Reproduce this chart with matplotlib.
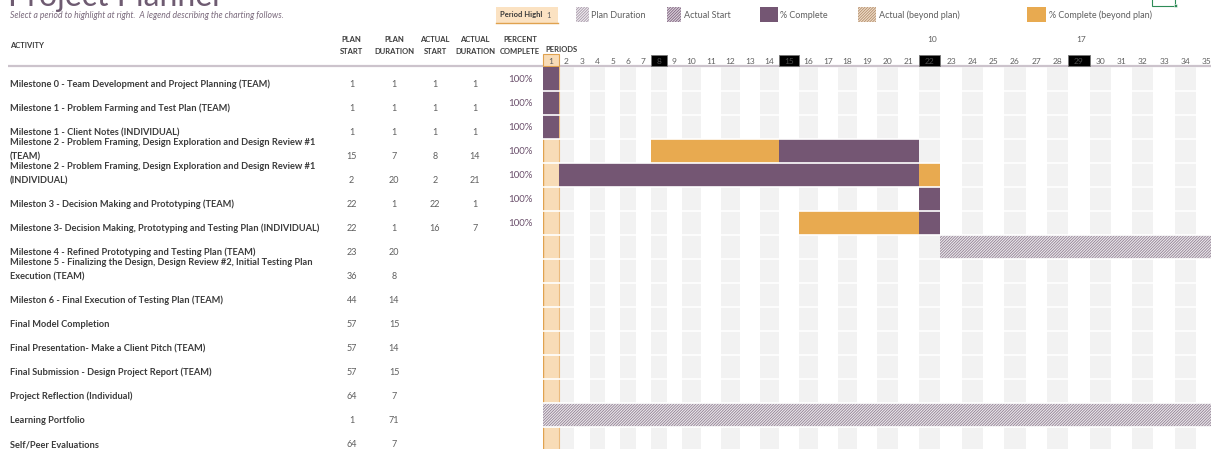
import numpy as np
import matplotlib
matplotlib.use("Agg")
import matplotlib.pyplot as plt
from matplotlib.patches import Rectangle
from matplotlib.transforms import blended_transform_factory as blend

# ---------------- data ----------------
activities = [
    "Milestone 0 - Team Development and Project Planning (TEAM)",
    "Milestone 1 - Problem Farming and Test Plan (TEAM)",
    "Milestone 1 - Client Notes (INDIVIDUAL)",
    "Milestone 2 - Problem Framing, Design Exploration and Design Review #1\n(TEAM)",
    "Milestone 2 - Problem Framing, Design Exploration and Design Review #1\n(INDIVIDUAL)",
    "Mileston 3 - Decision Making and Prototyping (TEAM)",
    "Milestone 3- Decision Making, Prototyping and Testing Plan (INDIVIDUAL)",
    "Milestone 4 - Refined Prototyping and Testing Plan (TEAM)",
    "Milestone 5 - Finalizing the Design, Design Review #2, Initial Testing Plan\nExecution (TEAM)",
    "Mileston 6 - Final Execution of Testing Plan (TEAM)",
    "Final Model Completion",
    "Final Presentation- Make a Client Pitch (TEAM)",
    "Final Submission - Design Project Report (TEAM)",
    "Project Reflection (Individual)",
    "Learning Portfolio",
    "Self/Peer Evaluations",
]
plan_start = [1, 1, 1, 15, 2, 22, 22, 23, 36, 44, 57, 57, 57, 64, 1, 64]
plan_duration = [1, 1, 1, 7, 20, 1, 1, 20, 8, 14, 15, 14, 15, 7, 71, 7]
actual_start = [1, 1, 1, 8, 2, 22, 16, None, None, None, None, None, None, None, None, None]
actual_duration = [1, 1, 1, 14, 21, 1, 7, None, None, None, None, None, None, None, None, None]
percent_complete = [100, 100, 100, 100, 100, 100, 100, None, None, None, None, None, None, None, None, None]
period_labels = list(range(1, 36))
highlight_period = 1
week_marks = [8, 15, 22, 29]
top_marks = {22: "10", 29: "17"}
legend_items = ["Plan Duration", "Actual Start", "% Complete", "Actual (beyond plan)", "% Complete (beyond plan)"]
headers = [("PLAN", "START"), ("PLAN", "DURATION"), ("ACTUAL", "START"), ("ACTUAL", "DURATION"), ("PERCENT", "COMPLETE")]

# ---------------- style / layout ----------------
PURPLE = "#745673"
ORANGE = "#E8AA50"
HL_FILL = "#F8DCB7"
HL_EDGE = "#E0A24F"
GRAY_COL = "#F2F2F2"
TXT = "#3b3b3b"
NUM = "#5f5f5f"
SEP = "#CCC3CC"
HATCH = "////////////"

plt.rcParams["font.family"] = ["Lato", "DejaVu Sans"]
plt.rcParams["hatch.linewidth"] = 0.6

W, H = 1211, 449
X0 = 543.3
HEAD_Y = 66.7
ROW_H = 24.0
PERIOD_W = [15.4] * 9 + [19.46] * 10 + [21.3] * 20

ep = np.arange(1, len(PERIOD_W) + 2, dtype=float)
epx = X0 + np.concatenate([[0.0], np.cumsum(PERIOD_W)])
ep = np.concatenate([[-100.0], ep, [ep[-1] + 200]])
epx = np.concatenate([[X0 - 101 * 15.4], epx, [epx[-1] + 200 * 21.3]])


def fwd(x):
    return np.interp(x, ep, epx)


def inv(v):
    return np.interp(v, epx, ep)


fig = plt.figure(figsize=(W / 100, H / 100), dpi=100)
base = fig.add_axes([0, 0, 1, 1], zorder=0)
base.set_xlim(0, W)
base.set_ylim(H, 0)
base.set_axis_off()

g = fig.add_axes([X0 / W, 0, 1 - X0 / W, (H - HEAD_Y) / H], zorder=1)
g.set_xscale("function", functions=(fwd, inv))
g.set_xlim(1, float(inv(W)))
g.set_ylim((H - HEAD_Y) / ROW_H, 0)
g.set_axis_off()

# ---------------- gantt background ----------------
for p in range(2, 40, 2):
    g.axvspan(p, p + 1, color=GRAY_COL, lw=0, zorder=0)
g.axvspan(highlight_period, highlight_period + 1, color=HL_FILL, lw=0, zorder=0.5)
g.axvline(highlight_period, color=HL_EDGE, lw=1.0, zorder=0.6)
g.axvline(highlight_period + 1, color="#EBBB7E", lw=0.8, zorder=0.6)

# ---------------- bars ----------------
n = len(activities)
for i in range(n):
    ps = plan_start[i]
    pe = ps + plan_duration[i]
    hatch_segs = []
    if actual_start[i] is not None:
        a0 = actual_start[i]
        a1 = a0 + actual_duration[i]
        c1 = a0 + actual_duration[i] * percent_complete[i] / 100.0
        purple = []
        orange = []
        s, e = max(a0, ps), min(c1, pe)
        if e > s:
            purple.append((s, e - s))
        if a0 < ps:
            orange.append((a0, min(c1, ps) - a0))
        if c1 > pe:
            orange.append((max(a0, pe), c1 - max(a0, pe)))
        if purple:
            g.broken_barh(purple, (i, 1), facecolors=PURPLE, lw=0, zorder=2)
        if orange:
            g.broken_barh(orange, (i, 1), facecolors=ORANGE, lw=0, zorder=2)
        if ps < a0:
            hatch_segs.append((ps, min(pe, a0) - ps))
        if pe > a1:
            hatch_segs.append((max(ps, a1), pe - max(ps, a1)))
    else:
        hatch_segs.append((ps, pe - ps))
    if hatch_segs:
        g.broken_barh(hatch_segs, (i, 1), facecolors="#ECE8EC", edgecolor="#918193",
                      hatch=HATCH, lw=0, zorder=2)

for r in range(1, n + 1):
    g.axhline(r, color="white", lw=1.2, zorder=3)

# ---------------- left table ----------------
tr = blend(base.transData, g.transData)
for i, label in enumerate(activities):
    lines = label.split("\n")
    for k, line in enumerate(lines):
        y = i + 0.75 - (len(lines) - 1 - k) * 0.6
        base.text(10, y, line, transform=tr, ha="left", va="center",
                  fontsize=6.7, fontweight="bold", color=TXT)

num_cols_x = [351.7, 394, 435, 475]
for i in range(n):
    vals = [plan_start[i], plan_duration[i], actual_start[i], actual_duration[i]]
    for x, v in zip(num_cols_x, vals):
        if v is not None:
            base.text(x, i + 0.75, str(v), transform=tr, ha="center", va="center",
                      fontsize=6.5, color=NUM)
    if percent_complete[i] is not None:
        base.text(520, i + 0.53, f"{percent_complete[i]}%", transform=tr, ha="center",
                  va="center", fontsize=7, color="#6A4F6B")

# ---------------- headers ----------------
base.text(10, 45, "ACTIVITY", ha="left", va="center", fontsize=5.5, fontweight="bold", color=TXT)
for x, (l1, l2) in zip(num_cols_x + [520], headers):
    base.text(x, 39.3, l1, ha="center", va="center", fontsize=5.5, fontweight="bold", color=TXT)
    base.text(x, 51.5, l2, ha="center", va="center", fontsize=5.5, fontweight="bold", color=TXT)
base.text(545, 49.3, "PERIODS", ha="left", va="center", fontsize=5.5, fontweight="bold", color=TXT)
base.plot([8, W], [65.6, 65.6], color=SEP, lw=1.6, solid_capstyle="butt", zorder=2)

th = blend(g.transData, base.transData)
for p in period_labels:
    col = NUM
    if p in week_marks:
        base.add_patch(Rectangle((p, 54.5), 1, 11.5, transform=th, facecolor="black",
                                 edgecolor="#777777", lw=0.6, zorder=3))
        col = "#4a4a4a"
    if p == highlight_period:
        base.add_patch(Rectangle((p, 54.0), 1, 12, transform=th, facecolor=HL_FILL,
                                 edgecolor=HL_EDGE, lw=0.8, zorder=3))
    base.text(p + 0.5, 61.0, str(p), transform=th, ha="center", va="center",
              fontsize=6, color=col, zorder=4)
for p, s in top_marks.items():
    base.text(p + 0.6, 39.3, s, transform=th, ha="center", va="center", fontsize=6, color=NUM)

# ---------------- title / subtitle ----------------
base.text(8, 5.5, "Project Planner", ha="left", va="baseline", fontsize=23, color="#6E5B71")
base.text(10, 15.5, "Select a period to highlight at right.  A legend describing the charting follows.",
          ha="left", va="center", fontsize=6.2, style="italic", color="#7A6A7C")

# ---------------- legend ----------------
base.add_patch(Rectangle((496, 6.5), 62, 16.5, facecolor="#FBE2C2", edgecolor="none", zorder=2))
base.plot([496, 558], [23, 23], color=HL_EDGE, lw=1.0, zorder=3)
base.text(500, 15, "Period Highl", ha="left", va="center", fontsize=5.5, fontweight="bold", color=TXT)
base.text(549, 15, str(highlight_period), ha="center", va="center", fontsize=5.5, color=NUM)

sw_x = [575.5, 667, 759.5, 858, 1027]
sw_w = [13.5, 14, 18, 18, 18.5]
txt_x = [591, 684, 780, 879, 1049]
sw_style = [
    dict(facecolor="#F1EEF1", edgecolor="#A697A8", hatch=HATCH),
    dict(facecolor="#DDD3DD", edgecolor="#7E647E", hatch=HATCH),
    dict(facecolor=PURPLE, edgecolor="none"),
    dict(facecolor="#EFDDCA", edgecolor="#B38E6C", hatch=HATCH),
    dict(facecolor=ORANGE, edgecolor="none"),
]
for x, w, tx, lab, st in zip(sw_x, sw_w, txt_x, legend_items, sw_style):
    base.add_patch(Rectangle((x, 7), w, 15, lw=0, zorder=2, **st))
    base.text(tx, 15, lab, ha="left", va="center", fontsize=6.5, color=NUM)

# selection outline at top-right
base.add_patch(Rectangle((1152, -3), 23, 8.5, facecolor="none", edgecolor="#2E8B57", lw=0.8, zorder=4))
base.add_patch(Rectangle((1173.5, 4.3), 3, 3, facecolor="#2E8B57", edgecolor="white", lw=0.4, zorder=5))

fig.savefig("out.png", dpi=100)
